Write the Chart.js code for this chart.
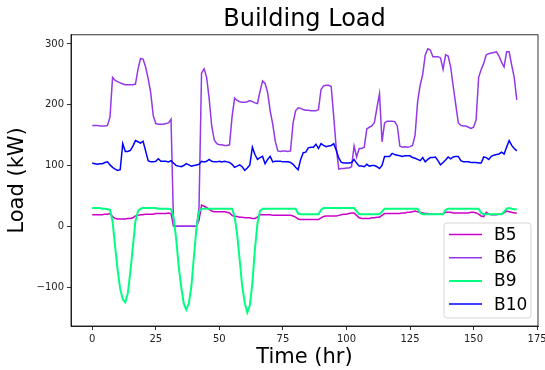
<!DOCTYPE html>
<html>
<head>
<meta charset="utf-8">
<script src="https://cdn.jsdelivr.net/npm/chart.js@4.4.0/dist/chart.umd.min.js"></script>
<style>
html, body { margin: 0; padding: 0; background: #fff; }
</style>
</head>
<body>
<canvas id="loadChart" width="545" height="370"></canvas>
<script>
/* ==========================
   DATA (hourly load, kW)
========================== */
const seriesNames = ["B5", "B6", "B9", "B10"];

const B5 = [
    19,19,19,19,19,20,20,21,16,13,
    12,12,12,12,13,13,14,17,18,19,
    19,20,20,20,20,21,21,21,21,21,
    22,21,0,0,0,0,0,0,0,0,
    0,0,10,35,33,31,28,25,24,24,
    24,24,24,23,22,18,16,16,15,15,
    14,14,14,13,13,15,19,19,19,19,
    19,18,18,18,18,18,18,18,18,17,
    15,12,11,11,11,11,11,11,11,11,
    14,16,17,17,17,17,17,18,19,20,
    20,21,22,22,18,14,13,13,13,13,
    14,14,15,15,18,21,21,21,21,21,
    21,21,22,22,23,23,24,25,24,23,
    22,21,21,20,20,20,20,20,21,23,
    23,23,22,22,22,22,22,22,22,23,
    23,22,20,17,16,23,20,19,19,19,
    20,20,22,25,24,23,22,22
];

const B6 = [
    166,166,166,165,165,165,166,180,245,240,
    238,236,234,233,233,233,233,234,258,276,
    275,262,243,220,182,169,168,168,168,169,
    170,176,0,0,0,0,0,0,0,0,
    0,0,30,252,259,245,210,165,142,136,
    134,134,133,133,134,180,211,207,205,204,
    204,205,207,205,203,202,222,239,235,220,
    190,168,140,124,123,124,124,123,124,170,
    190,195,194,192,191,191,190,190,190,192,
    225,231,232,232,230,180,128,94,95,95,
    96,96,98,132,114,128,128,130,160,163,
    165,171,195,218,139,170,173,173,173,172,
    165,132,130,131,130,131,133,150,205,232,
    250,282,292,290,279,279,279,277,258,282,
    280,262,230,200,170,166,165,165,163,161,
    163,175,245,258,268,282,284,285,286,287,
    280,270,262,287,287,265,245,208
];

const B9 = [
    30,30,30,30,29,29,28,27,8,-33,
    -72,-103,-120,-125,-110,-75,-33,8,25,29,
    30,30,30,30,30,30,29,29,29,29,
    29,28,15,-20,-65,-100,-127,-137,-127,-99,
    -50,-3,24,29,29,29,29,29,29,29,
    29,29,29,29,29,29,16,-13,-55,-99,
    -126,-142,-130,-93,-38,5,25,29,29,29,
    29,29,29,29,29,29,29,29,29,29,
    29,21,20,20,20,20,20,20,20,20,
    27,30,30,30,30,30,30,30,30,30,
    30,30,30,30,25,20,20,20,20,20,
    20,20,20,20,24,29,29,29,29,29,
    29,29,29,29,29,29,29,29,29,22,
    20,20,20,20,20,20,20,20,20,27,
    29,29,29,29,29,29,29,29,29,29,
    29,29,29,22,20,20,20,20,20,20,
    20,20,24,29,30,29,28,28
];

const B10 = [
    104,103,102,103,103,105,106,101,97,94,
    92,93,136,123,123,125,132,141,139,137,
    140,124,108,106,106,107,111,107,107,107,
    106,108,104,100,99,98,100,103,101,99,
    100,101,102,107,106,107,110,107,106,106,
    107,106,107,106,105,102,97,99,101,98,
    92,96,101,130,118,110,113,115,103,110,
    115,106,107,107,107,106,106,106,105,102,
    97,93,110,121,122,129,130,130,135,128,
    136,133,131,132,133,136,125,112,105,104,
    104,104,105,110,104,99,99,98,102,99,
    100,100,98,95,100,115,115,115,120,118,
    117,116,115,116,116,116,113,112,110,108,
    113,106,110,113,113,114,108,101,105,109,
    114,111,114,115,115,108,106,106,106,105,
    105,105,104,104,114,113,110,115,117,118,
    119,122,119,130,141,133,128,124
];

const xTicks = [0, 25, 50, 75, 100, 125, 150, 175];
const yTicks = [-100, 0, 100, 200, 300];

/* ==========================
   STYLE
========================== */
const FONT = "'DejaVu Sans', 'Liberation Sans', sans-serif";
const colors = ["#cc00cc", "#9438e8", "#00ff80", "#0000ff"];
const widths = [1.5, 1.5, 2, 1.5];

const hours = B5.map((_, i) => i);
const allSeries = [B5, B6, B9, B10];

const datasets = allSeries.map((vals, k) => ({
    label: seriesNames[k],
    data: hours.map((h, i) => ({ x: h, y: vals[i] })),
    borderColor: colors[k],
    backgroundColor: colors[k],
    borderWidth: widths[k],
    pointRadius: 0,
    tension: 0,
    fill: false,
    order: 4 - k
}));

// matplotlib prints a real minus sign
const fmtTick = v => String(v).replace("-", "\u2212");

/* ==========================
   PLUGIN: frame + legend box
========================== */
const framePlugin = {
    id: "frameLegend",
    afterDatasetsDraw(chart) {
        const { ctx, chartArea: a } = chart;
        ctx.save();
        ctx.strokeStyle = "#000";
        ctx.lineWidth = 0.8;
        ctx.strokeRect(a.left, a.top, a.right - a.left, a.bottom - a.top);

        // legend, lower right like matplotlib
        const bx = 444, by = 223, bw = 87, bh = 95, r = 3;
        ctx.beginPath();
        ctx.moveTo(bx + r, by);
        ctx.arcTo(bx + bw, by, bx + bw, by + bh, r);
        ctx.arcTo(bx + bw, by + bh, bx, by + bh, r);
        ctx.arcTo(bx, by + bh, bx, by, r);
        ctx.arcTo(bx, by, bx + bw, by, r);
        ctx.closePath();
        ctx.fillStyle = "rgba(255,255,255,0.8)";
        ctx.fill();
        ctx.strokeStyle = "#d6d6d6";
        ctx.lineWidth = 1;
        ctx.stroke();

        ctx.font = "17px " + FONT;
        ctx.textBaseline = "middle";
        ctx.textAlign = "left";
        seriesNames.forEach((name, k) => {
            const y = 234.5 + k * 23.2;
            ctx.beginPath();
            ctx.moveTo(449, y);
            ctx.lineTo(482, y);
            ctx.strokeStyle = colors[k];
            ctx.lineWidth = widths[k];
            ctx.stroke();
            ctx.fillStyle = "#000";
            ctx.fillText(name, 494, y + 1);
        });
        ctx.restore();
    }
};

/* ==========================
   CHART
========================== */
const ctx = document.getElementById("loadChart").getContext("2d");
new Chart(ctx, {
    type: "line",
    data: { datasets },
    options: {
        responsive: false,
        animation: false,
        devicePixelRatio: 1,
        layout: { padding: { left: 0, right: 7, top: 0, bottom: 0 } },
        plugins: {
            legend: { display: false },
            tooltip: { enabled: false },
            title: {
                display: true,
                text: "Building Load",
                fullSize: false,
                color: "#000",
                font: { family: FONT, size: 24, weight: "normal" },
                padding: { top: 5, bottom: 1 }
            }
        },
        scales: {
            x: {
                type: "linear",
                min: -8.35,
                max: 175.35,
                afterBuildTicks: s => { s.ticks = xTicks.map(v => ({ value: v })); },
                afterFit: s => { s.height = 44; s.paddingLeft = 0; s.paddingRight = 0; },
                grid: { display: true, drawOnChartArea: false, drawTicks: true, tickLength: 4, color: "#000", lineWidth: 0.8 },
                border: { display: true, color: "#000", width: 0.8 },
                ticks: { color: "#222", font: { family: FONT, size: 10 }, padding: 3, maxRotation: 0, autoSkip: false, callback: fmtTick },
                title: { display: true, text: "Time (hr)", color: "#000", font: { family: FONT, size: 21 }, padding: { top: 0, bottom: 0 } }
            },
            y: {
                type: "linear",
                min: -164,
                max: 315,
                afterBuildTicks: s => { s.ticks = yTicks.map(v => ({ value: v })); },
                afterFit: s => { s.width = 71; s.paddingTop = 0; s.paddingBottom = 0; },
                grid: { display: true, drawOnChartArea: false, drawTicks: true, tickLength: 4, color: "#000", lineWidth: 0.8 },
                border: { display: true, color: "#000", width: 0.8 },
                ticks: { color: "#222", font: { family: FONT, size: 10 }, padding: 3, callback: fmtTick },
                title: { display: true, text: "Load (kW)", color: "#000", font: { family: FONT, size: 21 }, padding: { top: 5, bottom: 0 } }
            }
        }
    },
    plugins: [framePlugin]
});
</script>
</body>
</html>
